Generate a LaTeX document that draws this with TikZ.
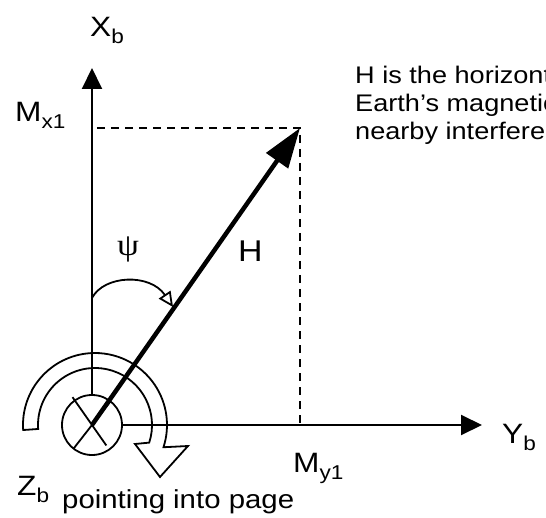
\documentclass[tikz,border=0pt]{standalone}
\usepackage{fontspec}
\setmainfont[FakeStretch=1.13]{Liberation Sans}
\newfontfamily\greekfont[FakeStretch=1.13]{Liberation Serif}
\usetikzlibrary{arrows.meta, positioning}
\newcommand{\lowsub}[1]{\raisebox{-7pt}{\fontsize{20}{20}\selectfont #1}}

\begin{document}
\begin{tikzpicture}[x=1pt, y=1pt,
      axis/.style={line width=2pt, -{Triangle[length=21pt,width=20pt]}},
      vec/.style={line width=4.5pt, -{Triangle[length=40pt,width=26pt]}},
      guide/.style={line width=2pt, dash pattern=on 8pt off 6pt},
      ring/.style={line width=1.8pt},
      lbl/.style={inner sep=0pt, anchor=base west, font=\fontsize{28}{28}\selectfont},
      note/.style={inner sep=0pt, anchor=base west, font=\fontsize{24}{24}\selectfont}
    ]
    \useasboundingbox (-92,-92) rectangle (454,425);
    \clip (-92,-92) rectangle (454,425);

    \node[draw, circle, line width=1.8pt, minimum size=60pt, inner sep=0pt] (zb) at (0,0) {};
    \coordinate (xtip)   at (0,357);
    \coordinate (ytip)   at (390,0);
    \coordinate (corner) at (208,297);
    \coordinate (mx)     at (5,297);
    \coordinate (my)     at (208,0);
    \coordinate (ac)     at (3,0);
    \coordinate (psistart) at (0,127);
    \coordinate (psiend)   at (81,118);

    % rotation arrow round Z
    \draw[ring] ([shift={(184:72)}]ac) arc[start angle=184, end angle=-18, radius=72]
      -- (96,-21) -- (68,-52) -- (43,-19)
      -- ([shift={(-18:57)}]ac) arc[start angle=-18, end angle=184, radius=57] -- cycle;
    \draw[ring] ([shift={(125:34)}]zb.center) -- ([shift={(-55:25)}]zb.center);
    \draw[ring] ([shift={(-128:30)}]zb.center) -- ([shift={(52:30)}]zb.center);

    \draw[axis] (zb.north) -- (xtip);
    \draw[axis] (zb.east)  -- (ytip);
    \draw[guide] (mx) -- (corner) -- (my);
    \draw[vec] (zb.center) -- (corner);
    \draw[ring, -{Triangle[open, length=15pt, width=14pt]}]
      (psistart) .. controls (12,150) and (58,152) .. (psiend);

    \node[lbl] (xb)    at (-2,388)  {X\lowsub{b}};
    \node[lbl] (mx1)   at (-77,303) {M\lowsub{x1}};
    \node[lbl] (yb)    at (410,-18) {Y\lowsub{b}};
    \node[lbl] (my1)   at (201,-47) {M\lowsub{y1}};
    \node[lbl] (zlbl)  at (-75,-70) {Z\lowsub{b}};
    \node[lbl, font=\fontsize{26}{26}\selectfont] (into) at (-30,-83) {pointing into page};
    \node[lbl, font=\fontsize{30}{30}\selectfont] (hlbl) at (146,163) {H};
    \node[lbl, font=\greekfont\fontsize{31}{31}\selectfont] (psi) at (25,169) {ψ};

    \node[note] (note1) at (263,341) {H is the horizontal};
    \node[note] (note2) at (263,313) {Earth’s magnetic field};
    \node[note] (note3) at (263,285) {nearby interference};
  \end{tikzpicture}
\end{document}
